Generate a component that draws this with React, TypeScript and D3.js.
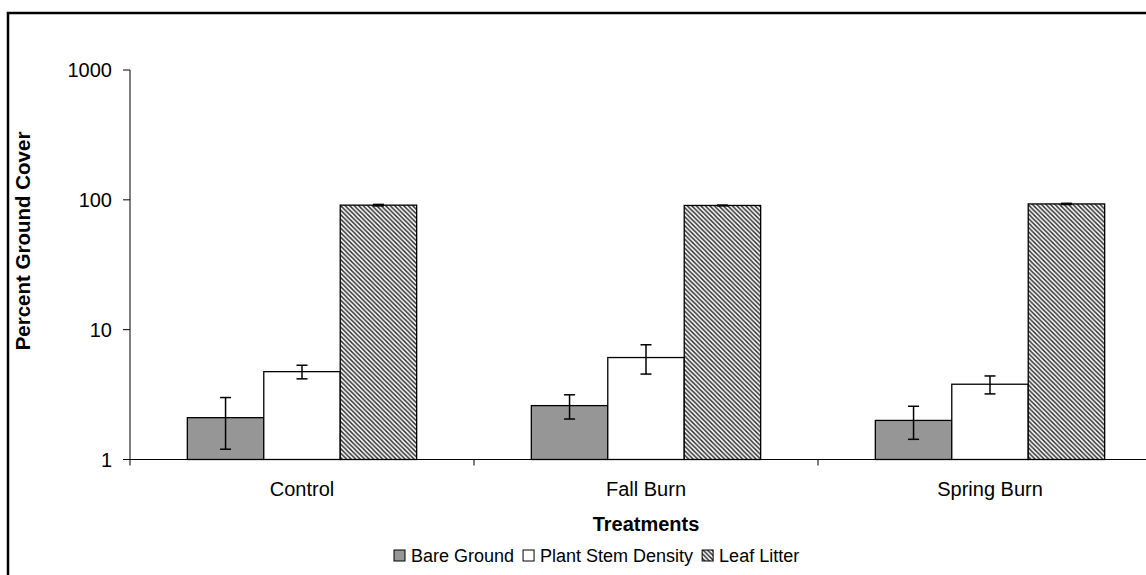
import * as d3 from 'd3'

const categories = ['Control', 'Fall Burn', 'Spring Burn']
const seriesNames = ['Bare Ground', 'Plant Stem Density', 'Leaf Litter']
const bareGround = [2.1, 2.6, 2.0]
const bareGroundErr = [0.9, 0.55, 0.57]
const plantStem = [4.75, 6.1, 3.8]
const plantStemErr = [0.57, 1.55, 0.6]
const leafLitter = [91, 90.5, 93]
const leafLitterErr = [1.2, 0.6, 1.0]
const yTicks = [1, 10, 100, 1000]

const W = 1146
const H = 575
const margin = { left: 130, top: 70, right: 1162, bottom: 459.5 }
const font = 'Arial, "Liberation Sans", sans-serif'

export default function App() {
  const x = d3.scaleBand<string>().domain(categories).range([margin.left, margin.right]).paddingInner(0).paddingOuter(0)
  const y = d3.scaleLog().domain([1, 1000]).range([margin.bottom, margin.top])

  // Excel-style gap width 150%: cluster = 3 bars, gap = 1.5 bars
  const barW = x.bandwidth() / 4.5
  const inner = d3.scaleBand<number>().domain([0, 1, 2]).range([0, barW * 3])

  const series = [
    { name: seriesNames[0], values: bareGround, err: bareGroundErr, fill: '#969696' },
    { name: seriesNames[1], values: plantStem, err: plantStemErr, fill: '#ffffff' },
    { name: seriesNames[2], values: leafLitter, err: leafLitterErr, fill: 'url(#hatch)' },
  ]

  // legend layout
  const legendFont = 18
  const ctx = document.createElement('canvas').getContext('2d')!
  ctx.font = `${legendFont}px Arial, "Liberation Sans", sans-serif`
  const widths = seriesNames.map((n) => ctx.measureText(n).width)
  let lx = 394
  const legendItems = series.map((s, i) => {
    const item = { ...s, x: lx }
    lx += 11 + 6 + widths[i] + 9
    return item
  })

  return (
    <svg width={W} height={H} style={{ position: 'absolute', left: 0, top: 0, background: '#fff' }} fontFamily={font}>
      <defs>
        <pattern id="hatch" patternUnits="userSpaceOnUse" width={4.5} height={4.5}>
          <rect width={4.5} height={4.5} fill="#fff" />
          <path d="M-1,-1 L5.5,5.5 M-1,3.5 L1,5.5 M3.5,-1 L5.5,1" stroke="#333" strokeWidth={1.5} />
        </pattern>
      </defs>

      {/* outer chart border */}
      <rect x={8} y={13} width={W + 20} height={H + 20} fill="none" stroke="#000" strokeWidth={2.5} />

      {/* bars */}
      {series.map((s, si) =>
        categories.map((c, ci) => {
          const bx = (x(c) || 0) + (x.bandwidth() - barW * 3) / 2 + (inner(si) || 0)
          const top = y(s.values[ci])
          return (
            <rect
              key={`${si}-${ci}`}
              x={bx}
              y={top}
              width={barW}
              height={margin.bottom - top}
              fill={s.fill}
              stroke="#000"
              strokeWidth={1.3}
            />
          )
        })
      )}

      {/* error bars */}
      {series.map((s, si) =>
        categories.map((c, ci) => {
          const cx = (x(c) || 0) + (x.bandwidth() - barW * 3) / 2 + (inner(si) || 0) + barW / 2
          const hi = y(s.values[ci] + s.err[ci])
          const lo = y(Math.max(s.values[ci] - s.err[ci], 1.001))
          return (
            <g key={`e${si}-${ci}`} stroke="#000" strokeWidth={1.5}>
              <line x1={cx} x2={cx} y1={hi} y2={lo} />
              <line x1={cx - 5.5} x2={cx + 5.5} y1={hi} y2={hi} />
              <line x1={cx - 5.5} x2={cx + 5.5} y1={lo} y2={lo} />
            </g>
          )
        })
      )}

      {/* y axis */}
      <line x1={margin.left} x2={margin.left} y1={margin.top} y2={margin.bottom} stroke="#000" strokeWidth={1} />
      {yTicks.map((t) => (
        <g key={t}>
          <line x1={margin.left - 7} x2={margin.left} y1={y(t)} y2={y(t)} stroke="#000" strokeWidth={1} />
          <text x={112} y={y(t)} dy="0.35em" textAnchor="end" fontSize={20} fill="#000">
            {t}
          </text>
        </g>
      ))}

      {/* x axis */}
      <line x1={margin.left} x2={margin.right} y1={margin.bottom} y2={margin.bottom} stroke="#000" strokeWidth={1} />
      {categories.map((c) => (
        <line
          key={`t${c}`}
          x1={x(c) || 0}
          x2={x(c) || 0}
          y1={margin.bottom}
          y2={margin.bottom + 6}
          stroke="#000"
          strokeWidth={1}
        />
      ))}
      {categories.map((c) => (
        <text key={c} x={(x(c) || 0) + x.bandwidth() / 2} y={496} textAnchor="middle" fontSize={20} fill="#000">
          {c}
        </text>
      ))}

      {/* axis titles */}
      <text x={(margin.left + margin.right) / 2} y={531} textAnchor="middle" fontSize={20} fontWeight="bold" fill="#000">
        Treatments
      </text>
      <text
        transform={`translate(30, 241) rotate(-90)`}
        textAnchor="middle"
        fontSize={20.5}
        fontWeight="bold"
        fill="#000"
      >
        Percent Ground Cover
      </text>

      {/* legend */}
      {legendItems.map((it) => (
        <g key={it.name}>
          <rect x={it.x} y={550} width={11} height={11} fill={it.fill} stroke="#000" strokeWidth={1} />
          <text x={it.x + 17} y={562} fontSize={legendFont} fill="#000">
            {it.name}
          </text>
        </g>
      ))}
    </svg>
  )
}
